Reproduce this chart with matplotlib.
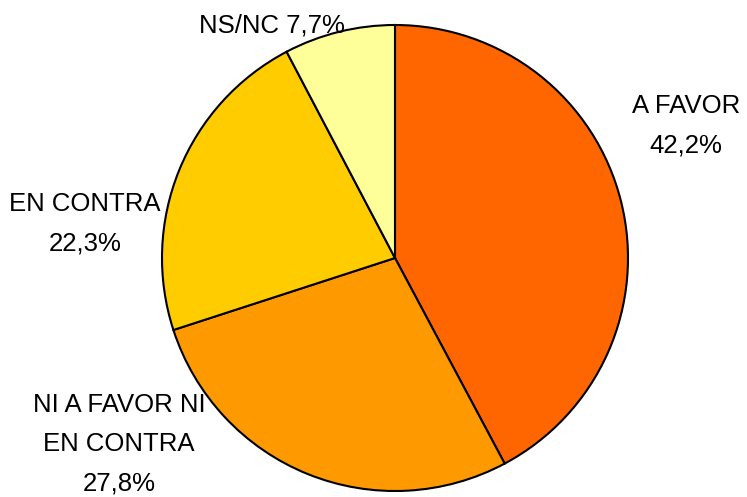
import matplotlib.pyplot as plt

plt.rcParams['font.family'] = ['Liberation Sans Narrow', 'Liberation Sans', 'DejaVu Sans']

categorias = ["A FAVOR", "NI A FAVOR NI\nEN CONTRA", "EN CONTRA", "NS/NC"]
valores = [42.2, 27.8, 22.3, 7.7]
colores = ["#FF6600", "#FF9900", "#FFCC00", "#FFFF99"]

W, H = 747, 497
cx, cy, r = 395, 258, 233

fig = plt.figure(figsize=(W / 100, H / 100), dpi=100)
ax = fig.add_axes([0, 0, 1, 1])
ax.pie(valores, colors=colores, startangle=90, counterclock=False,
       radius=1, center=(0, 0),
       wedgeprops=dict(edgecolor="black", linewidth=1.5))
ax.set_xlim(-cx / r, (W - cx) / r)
ax.set_ylim(-(H - cy) / r, cy / r)
ax.set_aspect("equal")
ax.axis("off")

# posiciones de las etiquetas (pixeles, origen arriba-izquierda)
pos = [(686, 126), (119, 444), (85, 224), (272, 26)]
for cat, val, (px, py) in zip(categorias, valores, pos):
    txt = f"{val:.1f}%".replace(".", ",")
    if cat == "NS/NC":
        s = f"{cat} {txt}"
    else:
        s = f"{cat}\n{txt}"
    fig.text(px / W, 1 - py / H, s, ha="center", va="center",
             fontsize=18.5, linespacing=1.8, color="black")

plt.savefig("out.png", dpi=100)
